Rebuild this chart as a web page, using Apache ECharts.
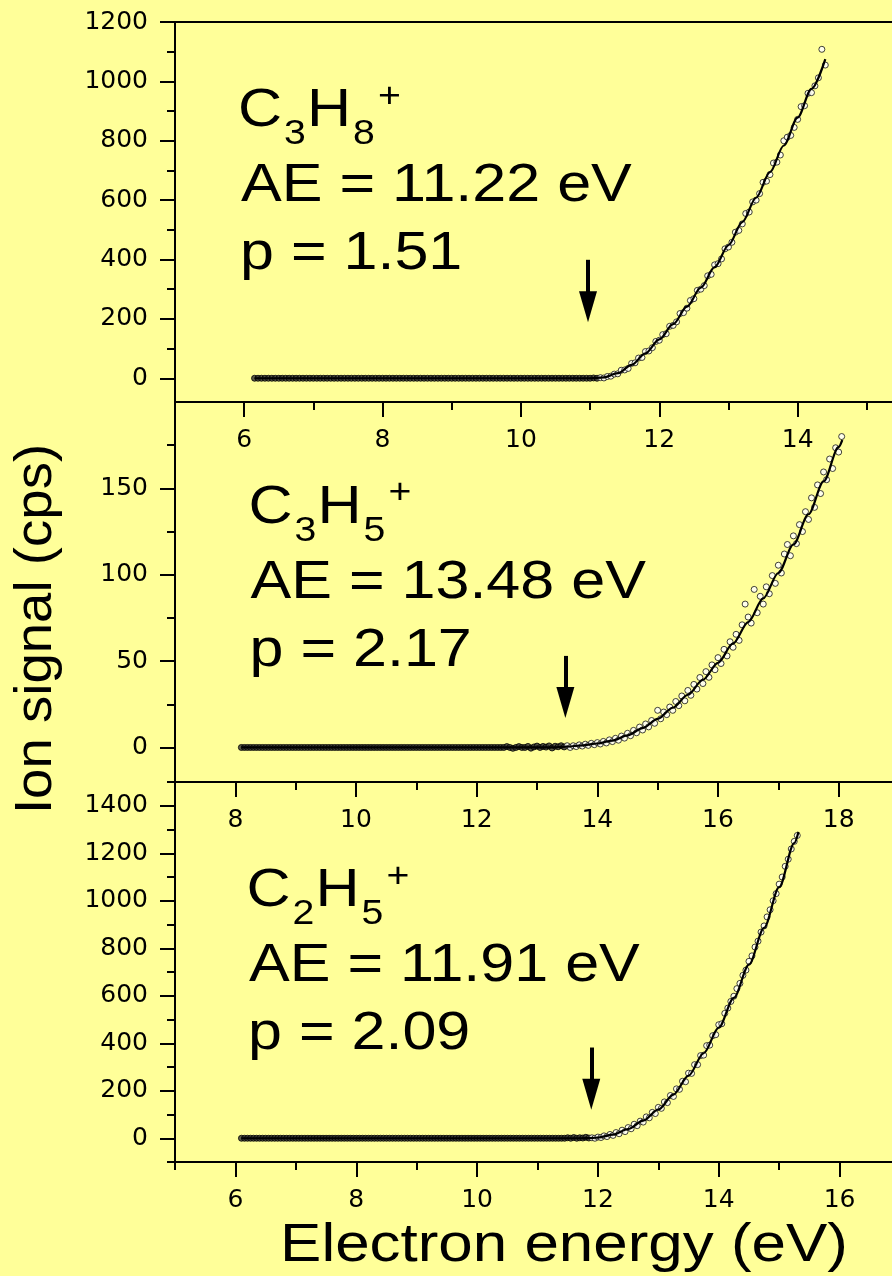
<!DOCTYPE html>
<html lang="en">
<head>
<meta charset="UTF-8">
<title>Ion signal vs electron energy</title>
<script src="https://cdn.jsdelivr.net/npm/echarts@6/dist/echarts.min.js"></script>
<style>
    html, body { margin: 0; padding: 0; background: #ffff99; }
    #chart { width: 892px; height: 1276px; }
</style>
</head>
<body>
<div id="chart"></div>
<script>
    // ---- C3H8+ (top panel) ----
    var c3h8BaseE = [
        6.15,6.2,6.25,6.3,6.35,6.4,6.45,6.5,6.55,6.6,6.65,6.7,6.75,6.8,6.85,6.9,6.95,
        7,7.05,7.1,7.15,7.2,7.25,7.3,7.35,7.4,7.45,7.5,7.55,7.6,7.65,7.7,7.75,7.8,7.85,7.9,7.95,
        8,8.05,8.1,8.15,8.2,8.25,8.3,8.35,8.4,8.45,8.5,8.55,8.6,8.65,8.7,8.75,8.8,8.85,8.9,8.95,
        9,9.05,9.1,9.15,9.2,9.25,9.3,9.35,9.4,9.45,9.5,9.55,9.6,9.65,9.7,9.75,9.8,9.85,9.9,9.95,
        10,10.05,10.1,10.15,10.2,10.25,10.3,10.35,10.4,10.45,10.5,10.55,10.6,10.65,10.7,10.75,10.8,10.85,10.9,10.95,
        11,11.05,11.1
    ];
    var c3h8BaseS = [
        0,0,0,0,0,0,0,0,0,0,0,0,0,0,0,0,0,
        0,0,0,0,0,0,0,0,0,0,0,0,0,0,0,0,0,0,0,0,
        0,0,0,0,0,0,0,0,0,0,0,0,0,0,0,0,0,0,0,0,
        0,0,0,0,0,0,0,0,0,0,0,0,0,0,0,0,0,0,0,0,
        0,0,0,0,0,0,0,0,0,0,0,0,0,0,0,0,0,0,0,0,
        0,1,0
    ];
    var c3h8RiseE = [
        11.15,11.2,11.25,11.3,11.35,11.4,11.45,11.5,11.55,11.6,11.65,11.7,11.75,11.8,11.85,11.9,11.95,12,
        12.05,12.1,12.15,12.2,12.25,12.3,12.35,12.4,12.45,12.5,12.55,12.6,12.65,12.7,12.75,12.8,12.85,12.9,12.95,13,
        13.05,13.1,13.15,13.2,13.25,13.3,13.35,13.4,13.45,13.5,13.55,13.6,13.65,13.7,13.75,13.8,13.85,13.9,13.95,14,
        14.05,14.1,14.15,14.2,14.25,14.3,14.35,14.4
    ];
    var c3h8RiseS = [
        2,1,6,7,14,15,27,28,33,50,52,68,70,90,92,103,124,128,
        147,150,175,178,190,218,221,236,262,268,296,300,312,345,350,382,386,402,436,442,
        458,492,498,520,555,560,594,600,622,660,664,686,725,728,752,800,812,818,845,872,
        915,918,960,962,985,1012,1108,1055
    ];
    var c3h8FitE = [6.15, 11.0, 11.2, 11.4, 11.6, 11.8, 12.0, 12.2, 12.4, 12.6, 12.8, 13.0, 13.2, 13.4, 13.6, 13.8, 14.0, 14.2, 14.4];
    var c3h8FitS = [0, 0, 3, 17, 45, 84, 131, 182, 241, 305, 374, 448, 526, 608, 694, 784, 878, 975, 1075];

    // ---- C3H5+ (middle panel) ----
    var c3h5BaseE = [
        8.1,8.15,8.2,8.25,8.3,8.35,8.4,8.45,8.5,8.55,8.6,8.65,8.7,8.75,8.8,8.85,8.9,8.95,
        9,9.05,9.1,9.15,9.2,9.25,9.3,9.35,9.4,9.45,9.5,9.55,9.6,9.65,9.7,9.75,9.8,9.85,9.9,9.95,
        10,10.05,10.1,10.15,10.2,10.25,10.3,10.35,10.4,10.45,10.5,10.55,10.6,10.65,10.7,10.75,10.8,10.85,10.9,10.95,
        11,11.05,11.1,11.15,11.2,11.25,11.3,11.35,11.4,11.45,11.5,11.55,11.6,11.65,11.7,11.75,11.8,11.85,11.9,11.95,
        12,12.05,12.1,12.15,12.2,12.25,12.3,12.35,12.4,12.45,12.5,12.55,12.6,12.65,12.7,12.75,12.8,12.85,12.9,12.95,
        13,13.05,13.1,13.15,13.2,13.25,13.3,13.35,13.4,13.45
    ];
    var c3h5BaseS = [
        0,0,0,0,0,0,0,0,0,0,0,0,0,0,0,0,0,0,
        0,0,0,0,0,0,0,0,0,0,0,0,0,0,0,0,0,0,0,0,
        0,0,0,0,0,0,0,0,0,0,0,0,0,0,0,0,0,0,0,0,
        0,0,0,0,0,0,0,0,0,0,0,0,0,0,0,0,0,0,0,0,
        0,0,0,0,0,0,0,0,0,0,0.5,0,-0.5,0,0.5,0,0,0.6,-0.4,0.3,
        0.8,0,0.6,0.2,0.9,-0.3,0.7,0.4,1,0.3
    ];
    var c3h5RiseE = [
        13.5,13.55,13.6,13.65,13.7,13.75,13.8,13.85,13.9,13.95,
        14,14.05,14.1,14.15,14.2,14.25,14.3,14.35,14.4,14.45,14.5,14.55,14.6,14.65,14.7,14.75,14.8,14.85,14.9,14.95,
        15,15.05,15.1,15.15,15.2,15.25,15.3,15.35,15.4,15.45,15.5,15.55,15.6,15.65,15.7,15.75,15.8,15.85,15.9,15.95,
        16,16.05,16.1,16.15,16.2,16.25,16.3,16.35,16.4,16.45,16.5,16.55,16.6,16.65,16.7,16.75,16.8,16.85,16.9,16.95,
        17,17.05,17.1,17.15,17.2,17.25,17.3,17.35,17.4,17.45,17.5,17.55,17.6,17.65,17.7,17.75,17.8,17.85,17.9,17.95,
        18,18.05
    ];
    var c3h5RiseS = [
        1,0,1,0.5,1.5,0.8,1.9,1.2,2.4,1.6,
        2.8,2,3.5,2.6,4.4,3.4,5.3,4.2,6.6,5.4,8.2,6.8,9.9,8.5,11.8,10.1,13.6,11.9,15.6,14,
        21.5,16.6,20.5,19,23.4,21.5,26.6,24.2,29.8,27,33,30.2,36.5,33.8,40.5,37,43.9,40.6,47.8,45,
        52,48.6,56.8,53,61.2,58,65.5,62,71,83,75.5,72,91.5,78,87.5,83,93,89,99.5,95,
        105.5,101,112,117.5,111,122.5,118,129,125,136.5,132,144.5,139,152,147,159.5,155,167,161.5,173.5,
        171,180
    ];
    var c3h5FitE = [8.1, 13.25, 13.5, 13.75, 14.0, 14.25, 14.5, 14.75, 15.0, 15.25, 15.5, 15.75, 16.0, 16.25, 16.5, 16.75, 17.0, 17.25, 17.5, 17.75, 18.0, 18.06];
    var c3h5FitS = [0, 0, 0.5, 1.2, 2.3, 4.0, 7.0, 11.2, 16.5, 23.0, 30.5, 39.2, 49.0, 60.2, 72.6, 86.3, 101, 117.5, 135, 154, 174, 178];

    // ---- C2H5+ (bottom panel) ----
    var c2h5BaseE = [
        6.1,6.15,6.2,6.25,6.3,6.35,6.4,6.45,6.5,6.55,6.6,6.65,6.7,6.75,6.8,6.85,6.9,6.95,
        7,7.05,7.1,7.15,7.2,7.25,7.3,7.35,7.4,7.45,7.5,7.55,7.6,7.65,7.7,7.75,7.8,7.85,7.9,7.95,
        8,8.05,8.1,8.15,8.2,8.25,8.3,8.35,8.4,8.45,8.5,8.55,8.6,8.65,8.7,8.75,8.8,8.85,8.9,8.95,
        9,9.05,9.1,9.15,9.2,9.25,9.3,9.35,9.4,9.45,9.5,9.55,9.6,9.65,9.7,9.75,9.8,9.85,9.9,9.95,
        10,10.05,10.1,10.15,10.2,10.25,10.3,10.35,10.4,10.45,10.5,10.55,10.6,10.65,10.7,10.75,10.8,10.85,10.9,10.95,
        11,11.05,11.1,11.15,11.2,11.25,11.3,11.35,11.4,11.45,11.5,11.55,11.6,11.65,11.7,11.75,11.8,11.85
    ];
    var c2h5BaseS = [
        0,0,0,0,0,0,0,0,0,0,0,0,0,0,0,0,0,0,
        0,0,0,0,0,0,0,0,0,0,0,0,0,0,0,0,0,0,0,0,
        0,0,0,0,0,0,0,0,0,0,0,0,0,0,0,0,0,0,0,0,
        0,0,0,0,0,0,0,0,0,0,0,0,0,0,0,0,0,0,0,0,
        0,0,0,0,0,0,0,0,0,0,0,0,0,0,0,0,0,0,0,0,
        0,0,0,0,0,0,0,0,0,0,2,0,3,0,2,1,4,1
    ];
    var c2h5RiseE = [
        11.9,11.95,
        12,12.05,12.1,12.15,12.2,12.25,12.3,12.35,12.4,12.45,12.5,12.55,12.6,12.65,12.7,12.75,12.8,12.85,12.9,12.95,
        13,13.05,13.1,13.15,13.2,13.25,13.3,13.35,13.4,13.45,13.5,13.55,13.6,13.65,13.7,13.75,13.8,13.85,13.9,13.95,
        14,14.05,14.1,14.15,14.2,14.25,14.3,14.35,14.4,14.45,14.5,14.55,14.6,14.65,14.7,14.75,14.8,14.85,14.9,14.95,
        15,15.05,15.1,15.15,15.2,15.25,15.3
    ];
    var c2h5RiseS = [
        2,0,
        5,3,10,7,16,12,24,19,34,28,45,40,59,53,72,68,90,86,109,104,
        130,126,153,150,180,176,208,206,240,238,274,273,310,310,348,350,390,392,432,436,
        478,482,526,548,576,598,630,652,686,708,745,768,805,830,868,894,932,962,1000,1030,
        1070,1100,1145,1175,1218,1250,1275
    ];
    var c2h5FitE = [6.1, 11.7, 11.9, 12.0, 12.25, 12.5, 12.75, 13.0, 13.25, 13.5, 13.75, 14.0, 14.25, 14.5, 14.75, 15.0, 15.25, 15.32];
    var c2h5FitS = [0, 0, 1, 3, 15, 39, 74, 121, 184, 264, 358, 466, 591, 731, 886, 1057, 1243, 1290];

    // tick values
    var x1Major = [6, 8, 10, 12, 14, 16];
    var x1Minor = [5, 7, 9, 11, 13, 15];
    var y1Major = [0, 200, 400, 600, 800, 1000, 1200];
    var y1Minor = [100, 300, 500, 700, 900, 1100];
    var x2Major = [8, 10, 12, 14, 16, 18];
    var x2Minor = [7, 9, 11, 13, 15, 17, 19];
    var y2Major = [0, 50, 100, 150];
    var y2Minor = [25, 75, 125, 175];
    var x3Major = [6, 8, 10, 12, 14, 16];
    var x3Minor = [5, 7, 9, 11, 13, 15, 17];
    var y3Major = [0, 200, 400, 600, 800, 1000, 1200, 1400];
    var y3Minor = [-100, 100, 300, 500, 700, 900, 1100, 1300, 1500];

    // annotation values: ion, AE, p, arrow energy, arrow top / end signal
    var ions = [['C', '3', 'H', '8'], ['C', '3', 'H', '5'], ['C', '2', 'H', '5']];
    var aeText = ['AE = 11.22 eV', 'AE = 13.48 eV', 'AE = 11.91 eV'];
    var pText = ['p = 1.51', 'p = 2.17', 'p = 2.09'];
    var arrowE = [10.97, 13.47, 11.89];
    var arrowTop = [399, 53, 382];
    var arrowEnd = [241, 26, 185];

    var chart = echarts.init(document.getElementById('chart'));

    function pairs(xs, ys) {
        return xs.map(function (x, i) { return [x, ys[i]]; });
    }

    var tickFont = { color: '#000', fontFamily: 'DejaVu Sans', fontSize: 25 };

    function mainAxis(grid, pos, min, max, major, margin) {
        return {
            type: 'value', gridIndex: grid, position: pos, min: min, max: max,
            axisLine: { show: true, onZero: false, lineStyle: { color: '#000', width: 2 } },
            axisTick: { show: true, inside: false, length: 15, customValues: major, lineStyle: { color: '#000', width: 2 } },
            axisLabel: Object.assign({
                show: true, margin: margin, customValues: major,
                formatter: function (v) { return String(v); }
            }, tickFont),
            splitLine: { show: false }
        };
    }
    function minorAxis(grid, pos, min, max, minor) {
        return {
            type: 'value', gridIndex: grid, position: pos, min: min, max: max,
            axisLine: { show: false, onZero: false },
            axisTick: { show: true, inside: false, length: 8, customValues: minor, lineStyle: { color: '#000', width: 2 } },
            axisLabel: { show: false },
            splitLine: { show: false }
        };
    }

    function panelSeries(idx, baseE, baseS, riseE, riseS, fitE, fitS) {
        return [
            {
                // flat pre-threshold scan: dense points merge into a dark band
                type: 'scatter', xAxisIndex: idx * 2, yAxisIndex: idx * 2,
                data: pairs(baseE, baseS),
                symbol: 'circle', symbolSize: 6, silent: true, z: 2,
                itemStyle: { color: '#333333', borderColor: '#000', borderWidth: 1 }
            },
            {
                type: 'scatter', xAxisIndex: idx * 2, yAxisIndex: idx * 2,
                data: pairs(riseE, riseS),
                symbol: 'circle', symbolSize: 6, silent: true, z: 2,
                itemStyle: { color: '#ffffff', borderColor: '#111', borderWidth: 1 }
            },
            {
                type: 'line', xAxisIndex: idx * 2, yAxisIndex: idx * 2,
                data: pairs(fitE, fitS), smooth: 0.3, smoothMonotone: 'x',
                showSymbol: false, symbol: 'none', silent: true, z: 3,
                lineStyle: { color: '#000', width: 2.2 },
                markLine: {
                    silent: true, animation: false,
                    label: { show: false },
                    lineStyle: { color: '#000', width: 4, type: 'solid' },
                    data: [[
                        { coord: [arrowE[idx], arrowTop[idx]], symbol: 'none' },
                        { coord: [arrowE[idx], arrowEnd[idx]], symbol: 'triangle', symbolSize: [18, 31] }
                    ]]
                }
            }
        ];
    }

    // text helpers (positions in px, baseline based)
    function txt(str, x, baseline, size, sx) {
        return {
            type: 'text', x: x, y: baseline - 0.3465 * size, scaleX: sx, silent: true,
            style: { text: str, x: 0, y: 0, fill: '#000', fontFamily: 'Liberation Sans', fontSize: size, align: 'left', verticalAlign: 'middle' }
        };
    }

    var textLeft = [238, 248.5, 246.5];
    var aeLeft = [241, 250.5, 249];
    var formulaBase = [130, 526.7, 910];
    var big = 54.5, small = 35, sx = 1.12;
    var graphics = [];
    for (var i = 0; i < 3; i++) {
        var l = textLeft[i], b = formulaBase[i];
        graphics.push(txt(ions[i][0], l, b, big, sx));
        graphics.push(txt(ions[i][1], l + 46, b + 16.5, small, sx));
        graphics.push(txt(ions[i][2], l + 69, b, big, sx));
        graphics.push(txt(ions[i][3], l + 115, b + 16.5, small, sx));
        graphics.push(txt('+', l + 140, b - 21, small, sx));
        graphics.push(txt(aeText[i], aeLeft[i], b + 75, big, sx));
        graphics.push(txt(pText[i], aeLeft[i] - 1, b + 142.7, big, sx));
    }
    graphics.push({
        type: 'text', x: 37, y: 629, rotation: Math.PI / 2, scaleX: 1.05, silent: true,
        style: { text: 'Ion signal (cps)', x: 0, y: 0, fill: '#000', fontFamily: 'Liberation Sans', fontSize: 52, align: 'center', verticalAlign: 'middle' }
    });
    graphics.push({
        type: 'text', x: 564, y: 1246, scaleX: 1.136, silent: true,
        style: { text: 'Electron energy (eV)', x: 0, y: 0, fill: '#000', fontFamily: 'Liberation Sans', fontSize: 54.5, align: 'center', verticalAlign: 'middle' }
    });

    var gridBase = {
        show: true, borderColor: '#000', borderWidth: 2, backgroundColor: 'transparent',
        containLabel: false, outerBoundsMode: 'none'
    };

    var option = {
        backgroundColor: '#ffff99',
        animation: false,
        grid: [
            Object.assign({ left: 175, top: 22, width: 761, height: 380 }, gridBase),
            Object.assign({ left: 175, top: 402, width: 724, height: 380 }, gridBase),
            Object.assign({ left: 175, top: 782, width: 725, height: 380 }, gridBase)
        ],
        xAxis: [
            mainAxis(0, 'bottom', 5, 16, x1Major, 26), minorAxis(0, 'bottom', 5, 16, x1Minor),
            mainAxis(1, 'bottom', 7, 19, x2Major, 26), minorAxis(1, 'bottom', 7, 19, x2Minor),
            mainAxis(2, 'bottom', 5, 17, x3Major, 26), minorAxis(2, 'bottom', 5, 17, x3Minor)
        ],
        yAxis: [
            mainAxis(0, 'left', -80, 1200, y1Major, 27), minorAxis(0, 'left', -80, 1200, y1Minor),
            mainAxis(1, 'left', -20, 200, y2Major, 27), minorAxis(1, 'left', -20, 200, y2Minor),
            mainAxis(2, 'left', -100, 1500, y3Major, 27), minorAxis(2, 'left', -100, 1500, y3Minor)
        ],
        series: []
            .concat(panelSeries(0, c3h8BaseE, c3h8BaseS, c3h8RiseE, c3h8RiseS, c3h8FitE, c3h8FitS))
            .concat(panelSeries(1, c3h5BaseE, c3h5BaseS, c3h5RiseE, c3h5RiseS, c3h5FitE, c3h5FitS))
            .concat(panelSeries(2, c2h5BaseE, c2h5BaseS, c2h5RiseE, c2h5RiseS, c2h5FitE, c2h5FitS)),
        graphic: graphics
    };
    chart.setOption(option);
</script>
</body>
</html>
